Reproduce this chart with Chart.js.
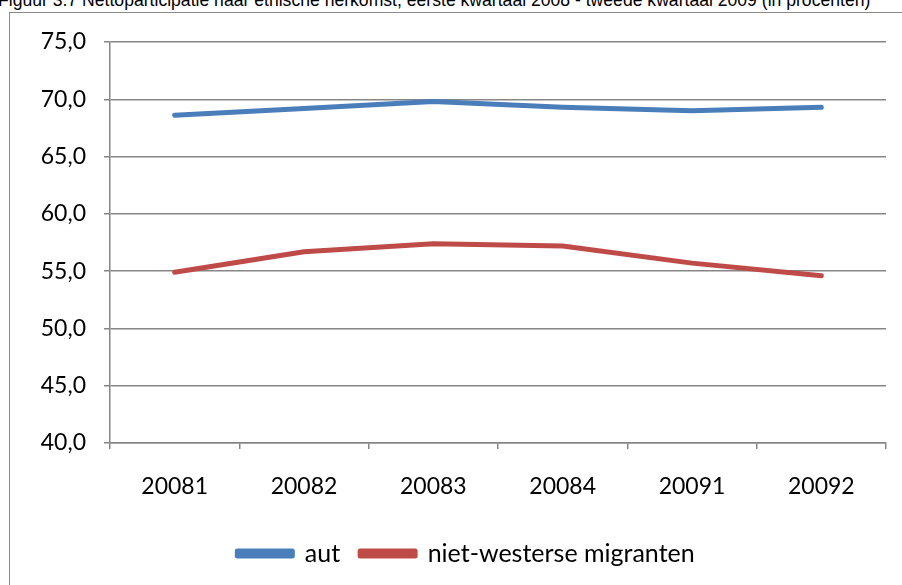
<!DOCTYPE html>
<html>
<head>
<meta charset="utf-8">
<script src="https://cdn.jsdelivr.net/npm/chart.js@4/dist/chart.umd.min.js"></script>
<style>
  body { margin: 0; background: #fff; overflow: hidden; width: 902px; height: 585px; position: relative; }
  #title { position: absolute; left: -2px; top: -8px; font: 17.6px/17.5px "Liberation Sans", Arial, sans-serif; white-space: nowrap; color: #000; }
  #frame { position: absolute; left: 9px; top: 12px; width: 1000px; height: 1000px; border: 1.5px solid #8a8a8a; }
  #wrap { position: absolute; left: 0; top: 0; width: 902px; height: 576px; }
</style>
</head>
<body>
<div id="title">Figuur 3.7 Nettoparticipatie naar etnische herkomst, eerste kwartaal 2008 - tweede kwartaal 2009 (in procenten)</div>
<div id="frame"></div>
<div id="wrap"><canvas id="chart"></canvas></div>
<script>
// kwartalen
const quarters = ['20081', '20082', '20083', '20084', '20091', '20092'];
const autValues = [68.6, 69.2, 69.8, 69.3, 69.0, 69.3];
const nietWestersValues = [54.9, 56.7, 57.4, 57.2, 55.7, 54.6];
const seriesLabels = ['aut', 'niet-westerse migranten'];
const yMin = 40, yMax = 75, yStep = 5;

const gridColor = '#868686';
const fontFamily = 'Lato, "Open Sans", sans-serif';

// legend sits a bit right of the plot centre in the original
const shiftLegend = {
  id: 'shiftLegend',
  afterLayout(chart) {
    const lg = chart.legend;
    if (!lg) return;
    lg.left += 18;
    lg.right += 18;
    if (lg.legendHitBoxes) lg.legendHitBoxes.forEach(b => { b.left += 18; });
  }
};

const ctx = document.getElementById('chart').getContext('2d');
new Chart(ctx, {
  type: 'line',
  data: {
    labels: quarters,
    datasets: [
      {
        label: seriesLabels[0],
        data: autValues,
        borderColor: '#4A7EBB',
        backgroundColor: '#4A7EBB',
        borderWidth: 5,
        borderCapStyle: 'round',
        borderJoinStyle: 'round',
        pointRadius: 0,
        tension: 0
      },
      {
        label: seriesLabels[1],
        data: nietWestersValues,
        borderColor: '#BE4B48',
        backgroundColor: '#BE4B48',
        borderWidth: 5,
        borderCapStyle: 'round',
        borderJoinStyle: 'round',
        pointRadius: 0,
        tension: 0
      }
    ]
  },
  options: {
    responsive: true,
    maintainAspectRatio: false,
    animation: false,
    layout: { padding: { top: 42, left: 10, right: 16, bottom: 0 } },
    plugins: {
      tooltip: { enabled: false },
      legend: {
        position: 'bottom',
        labels: {
          boxWidth: 55,
          boxHeight: 5,
          padding: 20,
          color: '#000',
          font: { family: fontFamily, size: 25 }
        }
      }
    },
    scales: {
      x: {
        offset: true,
        grid: { offset: true, drawOnChartArea: false, color: gridColor, lineWidth: 1.5, tickLength: 6 },
        border: { color: gridColor, width: 1.5 },
        ticks: { color: '#000', padding: 24, font: { family: fontFamily, size: 23 } },
        afterFit: (scale) => { scale.height = 78; }
      },
      y: {
        min: yMin,
        max: yMax,
        grid: { color: gridColor, lineWidth: 1.5, tickLength: 6 },
        border: { color: gridColor, width: 1.5 },
        ticks: {
          stepSize: yStep,
          color: '#000',
          padding: 18,
          font: { family: fontFamily, size: 23 },
          callback: (v) => v.toFixed(1).replace('.', ',')
        },
        afterFit: (scale) => { scale.width = 100; }
      }
    }
  },
  plugins: [shiftLegend]
});
</script>
</body>
</html>
